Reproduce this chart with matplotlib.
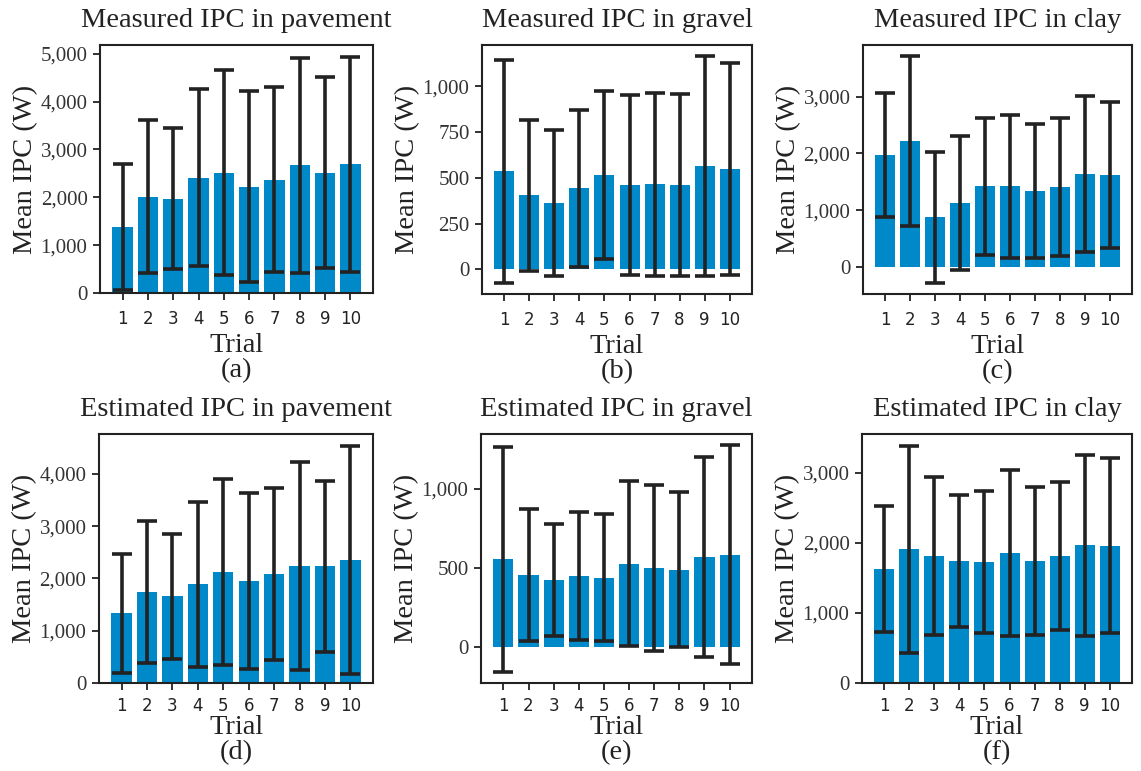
import matplotlib
matplotlib.use("Agg")
import matplotlib.pyplot as plt
from matplotlib.ticker import FuncFormatter, MultipleLocator

trials = list(range(1, 11))

# measured IPC (mean, std) per terrain
meas_pave = [1385, 2014, 1972, 2413, 2517, 2224, 2371, 2671, 2517, 2692]
meas_pave_sd = [1321, 1594, 1476, 1843, 2150, 2003, 1930, 2244, 1996, 2244]
meas_grav = [536, 404, 360, 442, 514, 459, 464, 459, 563, 547]
meas_grav_sd = [609, 412, 399, 429, 460, 492, 501, 498, 601, 578]
meas_clay = [1971, 2218, 876, 1124, 1424, 1424, 1335, 1406, 1635, 1618]
meas_clay_sd = [1088, 1489, 1150, 1183, 1203, 1256, 1180, 1209, 1377, 1289]

# estimated IPC (mean, std) per terrain
est_pave = [1333, 1737, 1660, 1891, 2122, 1949, 2083, 2237, 2237, 2353]
est_pave_sd = [1144, 1359, 1199, 1577, 1776, 1680, 1651, 1991, 1635, 2183]
est_grav = [556, 456, 425, 450, 437, 527, 501, 488, 571, 584]
est_grav_sd = [713, 418, 355, 404, 402, 524, 525, 491, 634, 693]
est_clay = [1627, 1909, 1813, 1742, 1727, 1856, 1742, 1813, 1967, 1957]
est_clay_sd = [895, 1476, 1132, 940, 1007, 1184, 1050, 1060, 1290, 1249]

titles = ["Measured IPC in pavement", "Measured IPC in gravel", "Measured IPC in clay",
          "Estimated IPC in pavement", "Estimated IPC in gravel", "Estimated IPC in clay"]
letters = ["(a)", "(b)", "(c)", "(d)", "(e)", "(f)"]
steps = [1000, 250, 1000, 1000, 500, 1000]

panels = [(meas_pave, meas_pave_sd), (meas_grav, meas_grav_sd), (meas_clay, meas_clay_sd),
          (est_pave, est_pave_sd), (est_grav, est_grav_sd), (est_clay, est_clay_sd)]

# axes boxes in pixels: left, right, top, bottom
boxes = [(100, 373, 45, 293), (482, 752, 45, 294), (863, 1132, 45, 294),
         (99, 373, 434, 683), (481, 752, 434, 683), (862, 1132, 434, 683)]

W, H = 1141, 771
serif = ['Liberation Serif', 'DejaVu Serif']
fig = plt.figure(figsize=(W / 100, H / 100), dpi=100)

for i in range(6):
    l, r, t, b = boxes[i]
    ax = fig.add_axes([l / W, (H - b) / H, (r - l) / W, (b - t) / H])
    mean, sd = panels[i]
    ax.bar(trials, mean, width=0.8, color='#0089c8', yerr=sd,
           error_kw=dict(ecolor='#222222', elinewidth=2.6, capsize=7, capthick=2.6))
    ax.set_xticks(trials)
    ax.set_xticklabels([str(t) for t in trials], fontsize=12, family='DejaVu Sans', color='#222222')
    ax.yaxis.set_major_locator(MultipleLocator(steps[i]))
    ax.yaxis.set_major_formatter(FuncFormatter(lambda v, p: '{:,.0f}'.format(v)))
    for lab in ax.get_yticklabels():
        lab.set_family(serif)
        lab.set_fontsize(15)
        lab.set_color('#333333')
    top_row = i < 3
    ax.tick_params(axis='x', length=5, width=1.3, color='#222222', pad=7 if top_row else 5)
    ax.tick_params(axis='y', length=5, width=1.3, color='#222222', pad=4)
    for s in ax.spines.values():
        s.set_linewidth(1.5)
        s.set_color('#222222')
    ax.set_title(titles[i], family=serif, fontsize=20.5, color='#222222', pad=13)
    ax.set_ylabel("Mean IPC (W)", family=serif, fontsize=20.5, color='#222222', labelpad=2)
    ax.set_xlabel("Trial\n" + letters[i], family=serif, fontsize=20.5, color='#222222',
                  labelpad=4 if top_row else 0, linespacing=1.0)

fig.savefig("out.png", dpi=100)
